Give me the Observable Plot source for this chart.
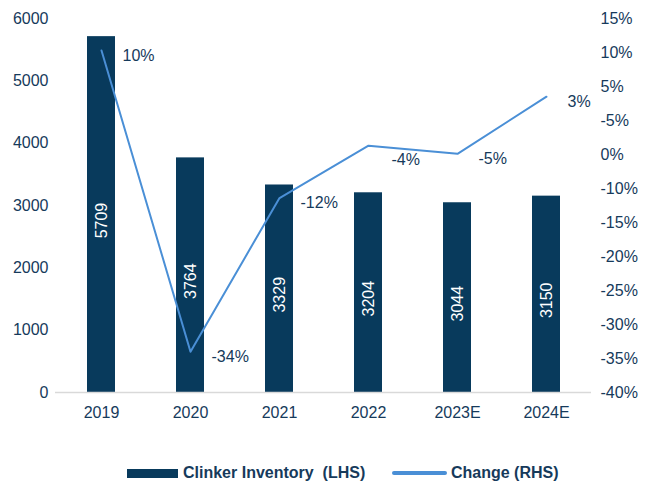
<!DOCTYPE html>
<html>
<head>
<meta charset="utf-8">
<script src="https://cdn.jsdelivr.net/npm/d3@7"></script>
<script src="https://cdn.jsdelivr.net/npm/@observablehq/plot@0.6"></script>
<style>
  html, body { margin: 0; padding: 0; background: #fff; }
  body { width: 651px; height: 484px; overflow: hidden; font-family: "Liberation Sans", Arial, Helvetica, sans-serif; color: #163a5b; }
  #chart svg { display: block; }
  .legend { position: relative; height: 44px; width: 651px; }
  .legend .sw-bar { position: absolute; left: 127px; top: 29px; width: 51px; height: 9px; background: #083a5c; }
  .legend .sw-line { position: absolute; left: 392px; top: 31px; width: 55px; height: 3.5px; background: #4a8fd6; border-radius: 2px; }
  .legend .lab { position: absolute; top: 24px; font-weight: bold; font-size: 16px; line-height: 18px; white-space: pre; color: #163a5b; }
</style>
</head>
<body>
<div id="chart"></div>
<div class="legend">
  <div class="sw-bar"></div><div class="lab" id="lab1" style="left:183px"></div>
  <div class="sw-line"></div><div class="lab" id="lab2" style="left:451px"></div>
</div>
<script>
const years = ["2019", "2020", "2021", "2022", "2023E", "2024E"];
const inventory = [5709, 3764, 3329, 3204, 3044, 3150];
const changePct = [10.3, -34, -11.4, -3.7, -4.9, 3.5];
const changeLabels = ["10%", "-34%", "-12%", "-4%", "-5%", "3%"];
const leftTicks = [0, 1000, 2000, 3000, 4000, 5000, 6000];
const rightTicks = [15, 10, 5, 0, -5, -10, -15, -20, -25, -30, -35, -40];
const rightTickLabels = ["15%", "10%", "5%", "-5%", "0%", "-10%", "-15%", "-20%", "-25%", "-30%", "-35%", "-40%"];
const seriesNames = ["Clinker Inventory  (LHS)", "Change (RHS)"];

document.getElementById("lab1").textContent = seriesNames[0];
document.getElementById("lab2").textContent = seriesNames[1];

const barColor = "#083a5c";
const lineColor = "#4a8fd6";
const textColor = "#163a5b";

// map right-axis percent into left-axis units
const pctMin = -40, pctMax = 15, yMax = 6000;
const pctToY = p => (p - pctMin) / (pctMax - pctMin) * yMax;

const data = years.map((y, i) => ({
  year: y, inv: inventory[i], pct: changePct[i], label: changeLabels[i]
}));

const chart = Plot.plot({
  width: 651,
  height: 440,
  marginTop: 18,
  marginBottom: 48,
  marginLeft: 55,
  marginRight: 60,
  style: { fontFamily: "'Liberation Sans', Arial, Helvetica, sans-serif", fontSize: "16px", color: textColor, background: "#fff" },
  x: { domain: years, paddingInner: 0.69, paddingOuter: 0.345, label: null },
  y: { domain: [0, yMax], label: null },
  marks: [
    Plot.barY(data, { x: "year", y: "inv", fill: barColor }),
    Plot.ruleY([0], { stroke: "#d9d9d9", strokeWidth: 1.5 }),
    Plot.text(data, { x: "year", y: d => d.inv / 2, text: d => String(d.inv), rotate: -90, fill: "#ffffff", dy: 6, fontSize: 16 }),
    Plot.line(data, { x: "year", y: d => pctToY(d.pct), stroke: lineColor, strokeWidth: 2 }),
    Plot.text(data.filter(d => d.year !== "2022"), { x: "year", y: d => pctToY(d.pct), text: "label", textAnchor: "start", dx: 21, dy: 5, fill: textColor, fontSize: 16 }),
    Plot.text(data.filter(d => d.year === "2022"), { x: "year", y: d => pctToY(d.pct), text: "label", textAnchor: "start", dx: 23, dy: 14, fill: textColor, fontSize: 16 }),
    Plot.axisY(leftTicks, { anchor: "left", tickSize: 0, tickPadding: 7, tickFormat: d => String(d), fontSize: 16 }),
    Plot.axisY(rightTicks.map(pctToY), { anchor: "right", tickSize: 0, tickPadding: 9, tickFormat: (d, i) => rightTickLabels[i], fontSize: 16 }),
    Plot.axisX({ tickSize: 0, tickPadding: 14, fontSize: 16 })
  ]
});
document.getElementById("chart").appendChild(chart);
</script>
</body>
</html>
